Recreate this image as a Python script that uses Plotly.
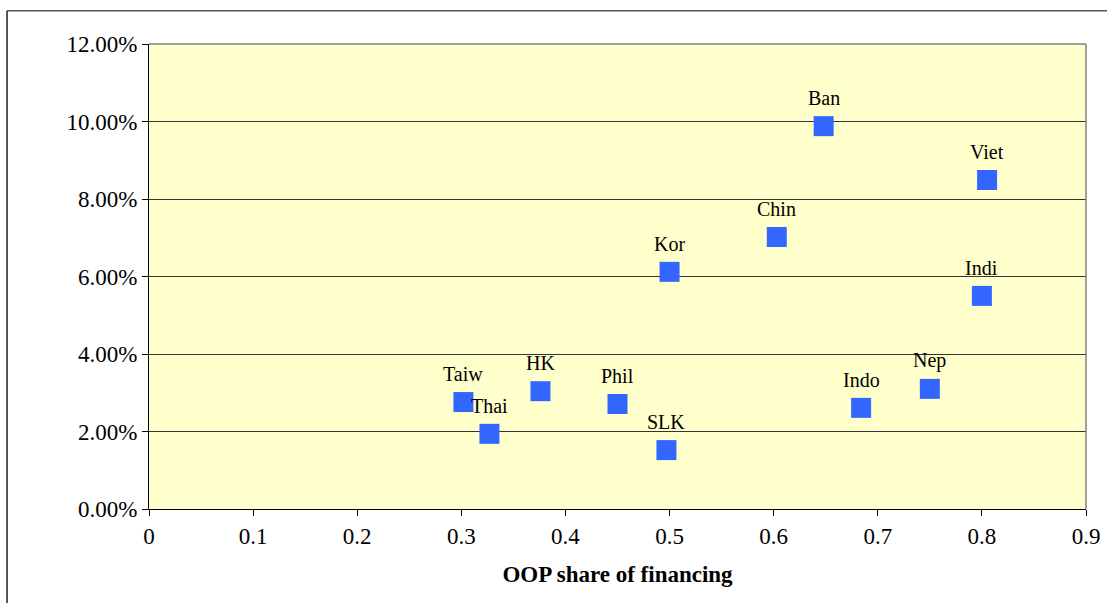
import plotly.graph_objects as go

countries = ["Taiw", "Thai", "HK", "Phil", "SLK", "Kor", "Chin", "Ban", "Viet", "Indi", "Indo", "Nep"]
oop_share = [0.302, 0.327, 0.376, 0.450, 0.497, 0.500, 0.603, 0.648, 0.805, 0.800, 0.684, 0.750]
y_values = [0.0276, 0.0194, 0.0304, 0.0271, 0.0152, 0.0612, 0.0702, 0.0988, 0.0849, 0.0550, 0.0261, 0.0310]

x_ticks = [0, 0.1, 0.2, 0.3, 0.4, 0.5, 0.6, 0.7, 0.8, 0.9]
x_tick_labels = ["0", "0.1", "0.2", "0.3", "0.4", "0.5", "0.6", "0.7", "0.8", "0.9"]
y_ticks = [0, 0.02, 0.04, 0.06, 0.08, 0.10, 0.12]
y_tick_labels = ["0.00%", "2.00%", "4.00%", "6.00%", "8.00%", "10.00%", "12.00%"]

font_family = "Liberation Serif"

fig = go.Figure()
fig.add_trace(go.Scatter(
    x=oop_share, y=y_values, mode="markers",
    marker=dict(symbol="square", size=20, color="#3366FF", line=dict(width=0)),
    hoverinfo="skip", showlegend=False,
))

for c, xv, yv in zip(countries, oop_share, y_values):
    fig.add_annotation(x=xv, y=yv, text=c, showarrow=False, yshift=28,
                       font=dict(family=font_family, size=20, color="black"))

# outer chart border (left and top edges visible)
fig.add_shape(type="line", xref="paper", yref="paper", x0=-0.1515, x1=-0.1515, y0=-0.25, y1=1.0716,
              line=dict(color="#222222", width=1.5))
fig.add_shape(type="line", xref="paper", yref="paper", x0=-0.1515, x1=1.05, y0=1.0716, y1=1.0716,
              line=dict(color="#555555", width=1.5))
# plot-area frame: gray top/right
fig.add_shape(type="line", xref="paper", yref="paper", x0=0, x1=1, y0=1, y1=1,
              line=dict(color="#808080", width=1.5))
fig.add_shape(type="line", xref="paper", yref="paper", x0=1, x1=1, y0=0, y1=1,
              line=dict(color="#808080", width=1.5))

fig.update_layout(
    width=1107, height=603,
    margin=dict(l=149, r=21, t=44, b=94),
    paper_bgcolor="white",
    plot_bgcolor="#FFFFCC",
    font=dict(family=font_family, size=23, color="black"),
    xaxis=dict(
        range=[0, 0.9], tickvals=x_ticks, ticktext=x_tick_labels,
        showgrid=False, zeroline=False, automargin=False,
        showline=True, linecolor="black", linewidth=1,
        ticks="outside", ticklen=6, tickcolor="black",
        ticklabeloverflow="allow",
        title=dict(text="<b>OOP share of financing</b>", font=dict(family=font_family, size=23), standoff=18),
    ),
    yaxis=dict(
        range=[0, 0.12], tickvals=y_ticks, ticktext=y_tick_labels,
        showgrid=True, gridcolor="#333333", gridwidth=1, zeroline=False, automargin=False,
        showline=True, linecolor="black", linewidth=1,
        ticks="outside", ticklen=6, tickcolor="black",
        ticklabeloverflow="allow",
    ),
)

fig.write_html("out.html", config={"displayModeBar": False},
               post_script="document.body.style.margin='0';document.body.style.overflow='hidden';")
